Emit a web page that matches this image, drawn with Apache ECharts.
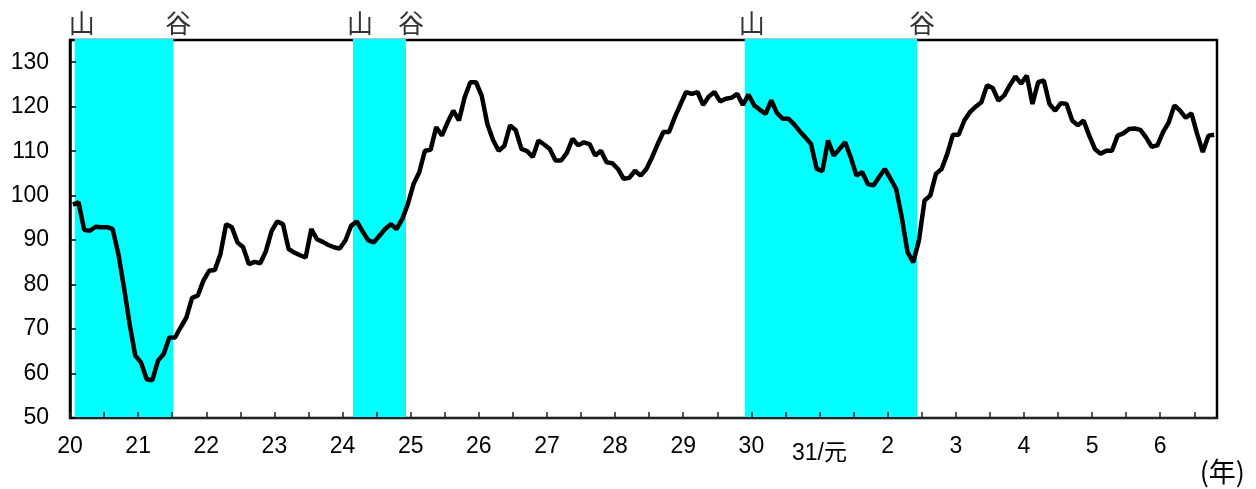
<!DOCTYPE html>
<html>
<head>
<meta charset="utf-8">
<script src="https://cdn.jsdelivr.net/npm/echarts@6/dist/echarts.min.js"></script>
<style>
html,body{margin:0;padding:0;background:#fff;}
#chart{width:1256px;height:489px;}
</style>
</head>
<body>
<div id="chart"></div>
<script>
// Monthly index values, starting with January of year "20" (month index 0)
const values = [
  98.0, 98.5, 92.3, 92.1, 93.0, 92.9, 92.9, 92.5, 87.0, 79.4, 71.1, 64.0,
  62.5, 58.7, 58.5, 62.9, 64.4, 68.1, 68.1, 70.4, 72.6, 77.0, 77.5, 80.9,
  83.1, 83.3, 86.9, 93.6, 92.9, 89.5, 88.4, 84.6, 85.1, 84.8, 87.5, 92.0,
  94.2, 93.6, 88.0, 87.2, 86.6, 86.1, 92.5, 90.2, 89.6, 88.9, 88.4, 88.1,
  89.9, 93.2, 94.2, 92.0, 90.0, 89.5, 91.0, 92.5, 93.6, 92.5, 94.7, 98.1,
  102.6, 105.2, 110.1, 110.3, 115.4, 113.5, 116.5, 119.1, 116.9, 122.1, 125.5, 125.5,
  122.5, 116.1, 112.5, 110.1, 111.2, 115.8, 114.7, 110.5, 110.0, 108.7, 112.4, 111.5,
  110.5, 107.9, 107.9, 109.6, 112.8, 111.3, 112.0, 111.6, 109.0, 110.1, 107.5, 107.3,
  106.0, 103.8, 104.0, 105.6, 104.5, 106.0, 108.6, 111.6, 114.3, 114.3, 117.6, 120.5,
  123.3, 122.9, 123.3, 120.4, 122.3, 123.3, 121.2, 121.8, 122.0, 122.9, 120.4, 122.7,
  120.3, 119.3, 118.4, 121.4, 118.6, 117.3, 117.3, 116.1, 114.5, 113.1, 111.6, 106.0,
  105.5, 112.4, 109.0, 110.5, 112.0, 108.6, 104.5, 105.3, 102.6, 102.3, 104.2, 106.0,
  103.8, 101.5, 95.0, 87.3, 85.0, 89.9, 98.9, 100.0, 104.9, 106.0, 109.4, 113.7,
  113.7, 116.9, 118.8, 120.0, 121.0, 124.8, 124.2, 121.4, 122.5, 124.8, 126.8, 125.2,
  127.0, 120.6, 125.5, 125.9, 120.6, 119.1, 120.8, 120.6, 116.9, 115.8, 116.9, 113.5,
  110.5, 109.4, 110.1, 110.1, 113.5, 114.0, 115.0, 115.1, 114.8, 113.1, 111.0, 111.3,
  114.3, 116.5, 120.3, 119.1, 117.5, 118.5, 113.9, 109.8, 113.5, 113.7
];
// Year tick labels (one per 12 months)
const yearLabels = ['20','21','22','23','24','25','26','27','28','29','30','31/元','2','3','4','5','6'];
// Business-cycle peaks (山) and troughs (谷), as month indices
const peakMonths = [1, 50, 119];
const troughMonths = [18, 59, 149];
const peakText = '山';
const troughText = '谷';
const unitText = '(年)';

const numFont = "'Liberation Sans', Arial, 'Noto Sans CJK JP', sans-serif";
const cjkFont = "'Noto Sans CJK JP', sans-serif";
const totalMonths = values.length;

const chart = echarts.init(document.getElementById('chart'), null, {renderer: 'canvas'});

const lineData = values.map((v, i) => [i + 0.5, v]);
const areas = peakMonths.map((p, k) => [{xAxis: p}, {xAxis: troughMonths[k]}]);
const markerData = [];
peakMonths.forEach(p => markerData.push({value: [p, 135], label: {formatter: peakText}}));
troughMonths.forEach(t => markerData.push({value: [t, 135], label: {formatter: troughText}}));

chart.setOption({
  animation: false,
  backgroundColor: '#fff',
  title: {
    text: unitText,
    right: 11,
    bottom: 4,
    padding: 0,
    textStyle: {fontSize: 27, fontWeight: 'normal', color: '#000', fontFamily: cjkFont}
  },
  grid: {
    left: 70, right: 39, top: 40, bottom: 71,
    show: true, borderColor: '#000', borderWidth: 2.5, backgroundColor: 'transparent'
  },
  xAxis: {
    type: 'value',
    min: 0,
    max: totalMonths,
    interval: 6,
    z: 5,
    axisLine: {show: true, lineStyle: {color: '#222', width: 2}},
    axisTick: {show: true, inside: true, length: 6, lineStyle: {color: '#222', width: 1.5}},
    splitLine: {show: false},
    axisLabel: {
      margin: 17,
      fontSize: 23,
      color: '#000',
      fontFamily: numFont,
      showMaxLabel: false,
      formatter: v => {
        if (v % 12 !== 0) return '';
        const s = yearLabels[v / 12];
        if (s === undefined) return '';
        return s.indexOf('/') >= 0 ? '{d|' + s + '}' : s;
      },
      rich: {
        d: {fontSize: 23, color: '#000', fontFamily: numFont, padding: [7, 0, 0, 0]}
      }
    }
  },
  yAxis: {
    type: 'value',
    min: 50,
    max: 135,
    interval: 10,
    z: 5,
    axisLine: {show: true, lineStyle: {color: '#000', width: 2.5}},
    axisTick: {show: true, inside: true, length: 6, lineStyle: {color: '#000', width: 1.5}},
    splitLine: {show: false},
    axisLabel: {margin: 21, fontSize: 23, color: '#000', fontFamily: numFont, showMaxLabel: false}
  },
  series: [
    {
      type: 'line',
      data: lineData,
      symbol: 'none',
      showSymbol: false,
      z: 3,
      lineStyle: {color: '#000', width: 4.5},
      markArea: {
        silent: true,
        itemStyle: {color: '#00ffff', borderColor: '#00ffff', borderWidth: 2},
        data: areas
      }
    },
    {
      type: 'scatter',
      data: markerData,
      symbolSize: 1,
      clip: false,
      z: 4,
      itemStyle: {color: 'rgba(0,0,0,0)'},
      label: {
        show: true,
        position: 'top',
        distance: 3,
        offset: [6, 0],
        fontSize: 26,
        color: '#000',
        fontFamily: cjkFont
      }
    }
  ]
});
</script>
</body>
</html>
